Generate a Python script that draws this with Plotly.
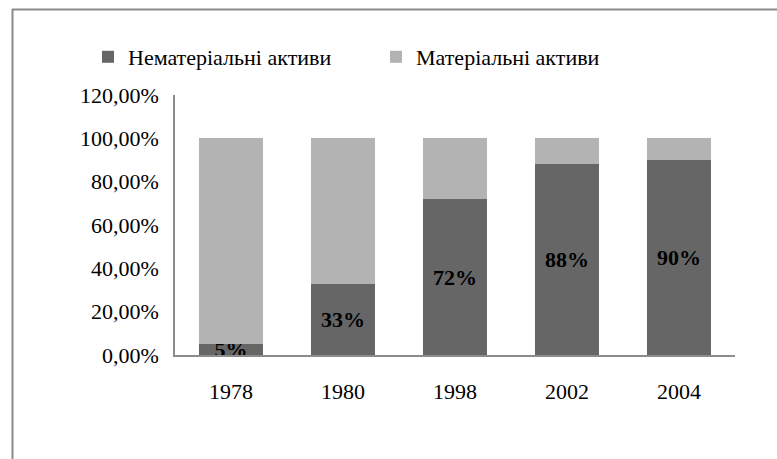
import plotly.graph_objects as go

years = ["1978", "1980", "1998", "2002", "2004"]
intangible = [5, 33, 72, 88, 90]
tangible = [95, 67, 28, 12, 10]
intangible_labels = ["5%", "33%", "72%", "88%", "90%"]
y_ticks = [0, 20, 40, 60, 80, 100, 120]
y_tick_labels = ["0,00%", "20,00%", "40,00%", "60,00%", "80,00%", "100,00%", "120,00%"]

serif = "Liberation Serif, Times New Roman, serif"

fig = go.Figure()
fig.add_trace(go.Bar(
    x=years, y=intangible, name="Нематеріальні активи",
    marker=dict(color="#666666", line=dict(width=0)),
    text=intangible_labels, textposition="inside", insidetextanchor="middle",
    constraintext="none", textangle=0,
    textfont=dict(family=serif, size=22, color="black", weight="bold"),
))
fig.add_trace(go.Bar(
    x=years, y=tangible, name="Матеріальні активи",
    marker=dict(color="#b3b3b3", line=dict(width=0)),
    hoverinfo="y",
))

fig.update_layout(
    barmode="stack",
    bargap=0.42,
    width=777, height=459,
    margin=dict(l=175, r=42, t=95, b=104, autoexpand=False),
    paper_bgcolor="white", plot_bgcolor="white",
    font=dict(family=serif, size=22, color="black"),
    legend=dict(
        orientation="h", xref="paper", yref="paper",
        x=(88 - 175) / 560, y=(355 - 57) / 260, xanchor="left", yanchor="middle",
        font=dict(family=serif, size=22, color="black"),
        bgcolor="rgba(0,0,0,0)",
        entrywidth=243, entrywidthmode="pixels",
        itemwidth=30, traceorder="normal",
    ),
    xaxis=dict(
        showline=True, linecolor="#8c8c8c", linewidth=1.5,
        ticks="", showgrid=False, ticklabelstandoff=16,
        tickfont=dict(family=serif, size=22, color="black"),
    ),
    yaxis=dict(
        range=[0, 120], tickvals=y_ticks, ticktext=y_tick_labels,
        showline=True, linecolor="#8c8c8c", linewidth=1.5,
        ticks="", showgrid=False, zeroline=False, ticklabelstandoff=10,
        tickfont=dict(family=serif, size=22, color="black"),
    ),
    showlegend=True,
)

# outer frame (top and left edges visible)
fig.add_shape(type="line", xref="paper", yref="paper",
              x0=(12 - 175) / 560, x1=(800 - 175) / 560,
              y0=(355 - 9.5) / 260, y1=(355 - 9.5) / 260,
              line=dict(color="#8a8a8a", width=2))
fig.add_shape(type="line", xref="paper", yref="paper",
              x0=(12.5 - 175) / 560, x1=(12.5 - 175) / 560,
              y0=(355 - 9) / 260, y1=(355 - 470) / 260,
              line=dict(color="#8a8a8a", width=2))

fig.write_html("out.html", config={"displayModeBar": False},
               post_script="document.body.style.margin='0';document.body.style.overflow='hidden';")
